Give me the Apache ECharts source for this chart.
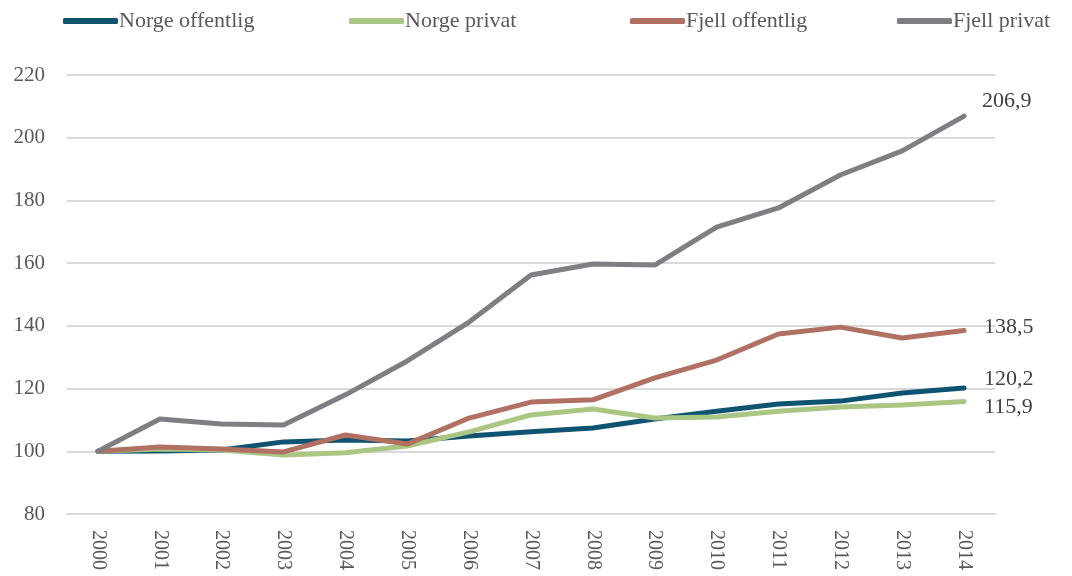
<!DOCTYPE html>
<html>
<head>
<meta charset="utf-8">
<script src="https://cdn.jsdelivr.net/npm/echarts@6/dist/echarts.min.js"></script>
<style>
  html, body { margin: 0; padding: 0; background: #fff; }
  #chart { width: 1072px; height: 576px; }
</style>
</head>
<body>
<div id="chart"></div>
<script>
// Index, 2000 = 100
const years = ['2000','2001','2002','2003','2004','2005','2006','2007','2008','2009','2010','2011','2012','2013','2014'];
const norgeOffentlig = [100, 100.1, 100.4, 103.0, 103.6, 103.3, 104.9, 106.2, 107.4, 110.3, 112.8, 115.1, 116.0, 118.6, 120.2];
const norgePrivat    = [100, 100.7, 100.4, 98.8, 99.5, 101.7, 106.2, 111.6, 113.5, 110.6, 110.9, 112.8, 114.1, 114.8, 115.9];
const fjellOffentlig = [100, 101.4, 100.7, 99.8, 105.2, 102.3, 110.6, 115.7, 116.4, 123.4, 129.1, 137.4, 139.6, 136.1, 138.5];
const fjellPrivat    = [100, 110.3, 108.7, 108.4, 118.0, 128.8, 141.2, 156.2, 159.7, 159.4, 171.5, 177.6, 188.1, 195.8, 206.9];

const FONT = '"Liberation Serif", "DejaVu Serif", serif';
const TEXT = '#595959';

function fmt(v) { return v.toFixed(1).replace('.', ','); }

function line(name, data, color, labelOffset) {
  return {
    name: name,
    type: 'line',
    data: data,
    symbol: 'none',
    lineStyle: { width: 5, color: color, cap: 'round', join: 'round' },
    itemStyle: { color: color },
    endLabel: {
      show: true,
      formatter: p => fmt(p.value),
      fontFamily: FONT,
      fontSize: 22,
      color: '#404040',
      offset: labelOffset
    }
  };
}

function legendAt(left, name) {
  return {
    left: left,
    top: 10,
    padding: 0,
    data: [name],
    icon: 'roundRect',
    itemWidth: 55,
    itemHeight: 6,
    selectedMode: false,
    textStyle: { fontFamily: FONT, fontSize: 22, color: TEXT, padding: [0, 0, 0, -4] }
  };
}

const chart = echarts.init(document.getElementById('chart'), null, { renderer: 'canvas' });
chart.setOption({
  animation: false,
  backgroundColor: '#fff',
  legend: [
    legendAt(63, 'Norge offentlig'),
    legendAt(349, 'Norge privat'),
    legendAt(630, 'Fjell offentlig'),
    legendAt(897, 'Fjell privat')
  ],
  grid: { left: 67, right: 77, top: 75, bottom: 62, containLabel: false },
  xAxis: {
    type: 'category',
    data: years,
    boundaryGap: true,
    axisLine: { show: true, lineStyle: { color: '#d9d9d9', width: 2 } },
    axisTick: { show: false },
    axisLabel: {
      rotate: -90,
      margin: 16,
      fontFamily: FONT,
      fontSize: 20,
      color: TEXT
    }
  },
  yAxis: {
    type: 'value',
    min: 80,
    max: 220,
    interval: 20,
    axisLine: { show: false },
    axisTick: { show: false },
    splitLine: { lineStyle: { color: '#d9d9d9', width: 2 } },
    axisLabel: {
      margin: 22,
      fontFamily: FONT,
      fontSize: 21,
      color: TEXT
    }
  },
  series: [
    line('Norge offentlig', norgeOffentlig, '#0e5470', [12, -9]),
    line('Norge privat', norgePrivat, '#a9c683', [12, 6]),
    line('Fjell offentlig', fjellOffentlig, '#b07062', [12, -3]),
    line('Fjell privat', fjellPrivat, '#7f7e83', [10, -15])
  ]
});
</script>
</body>
</html>
